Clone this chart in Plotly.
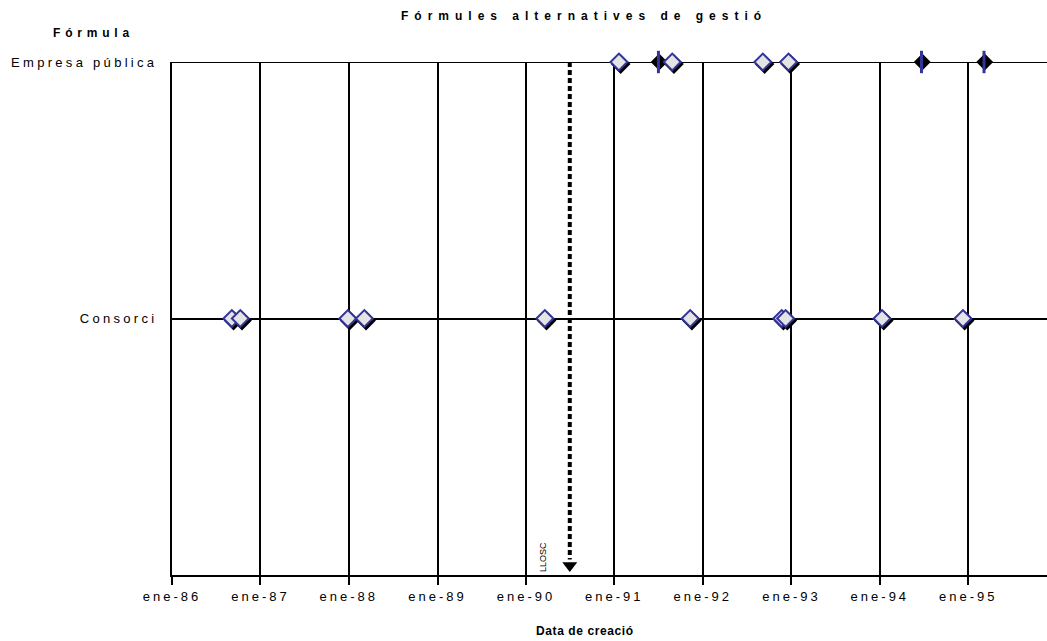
import plotly.graph_objects as go
import pandas as pd

# ---- data ----
row_labels = ["Consorci", "Empresa pública"]
row_values = [1, 2]

empresa_open_dates = ["1991-01-20", "1991-08-28", "1992-09-05", "1992-12-20"]
empresa_dark_dates = ["1991-07-05", "1994-06-25", "1995-03-10"]
consorci_dates = ["1986-09-05", "1986-10-10", "1987-12-28", "1988-03-05",
                  "1990-03-20", "1991-11-10", "1992-11-22", "1992-12-08",
                  "1994-01-10", "1994-12-10"]

llosc_date = "1990-07-01"

tick_dates = ["1986-01-01", "1987-01-01", "1988-01-01", "1989-01-01", "1990-01-01",
              "1991-01-01", "1992-01-01", "1993-01-01", "1994-01-01", "1995-01-01"]
tick_labels = ["ene-86", "ene-87", "ene-88", "ene-89", "ene-90",
               "ene-91", "ene-92", "ene-93", "ene-94", "ene-95"]

x_range = ["1986-01-01", "1995-11-22"]

FONT = "Arial, Liberation Sans, sans-serif"
NAVY = "#333399"
FILL = "#e4e4e4"

W, H = 1047, 641
PL, PR, PT, PB = 172, 1047, 62, 575  # plot area in pixels


def px(x):
    return (x - PL) / (PR - PL)


def py(y):
    return (PB - y) / (PB - PT)


def spaced(t, ls):
    return f'<span style="letter-spacing:{ls}px">{t}</span>'


def shift(dates, days):
    return [(pd.Timestamp(d) + pd.Timedelta(days=days)).strftime("%Y-%m-%d") for d in dates]


fig = go.Figure()

# top border line (gridline at top of range)
fig.add_shape(type="line", xref="paper", yref="y", x0=0, x1=1, y0=2, y1=2,
              line=dict(color="black", width=2), layer="below")

# shadows
sh_days = 7
sh_dy = 0.008
for dates, yv in ((empresa_open_dates, 2), (consorci_dates, 1)):
    fig.add_trace(go.Scatter(
        x=shift(dates, sh_days), y=[yv - sh_dy] * len(dates),
        mode="markers", marker=dict(symbol="diamond", size=13, color="black",
                                    line=dict(width=2, color="black")),
        cliponaxis=False, hoverinfo="skip", showlegend=False))

# dark markers (Empresa pública)
fig.add_trace(go.Scatter(
    x=empresa_dark_dates, y=[2] * len(empresa_dark_dates),
    mode="markers", marker=dict(symbol="diamond", size=13, color="black",
                                line=dict(width=0)),
    cliponaxis=False, showlegend=False))
fig.add_trace(go.Scatter(
    x=shift(empresa_dark_dates, -3), y=[2] * len(empresa_dark_dates),
    mode="markers", marker=dict(symbol="line-ns", size=16,
                                line=dict(width=3, color=NAVY)),
    cliponaxis=False, showlegend=False))

# open diamonds
for dates, yv in ((empresa_open_dates, 2), (consorci_dates, 1)):
    fig.add_trace(go.Scatter(
        x=dates, y=[yv] * len(dates),
        mode="markers", marker=dict(symbol="diamond", size=13, color=FILL,
                                    line=dict(width=2, color=NAVY)),
        cliponaxis=False, showlegend=False))

# LLOSC arrow
fig.add_shape(type="line", x0=llosc_date, x1=llosc_date, y0=2, y1=0.06,
              xref="x", yref="y", line=dict(color="black", width=4, dash="5px,3px"))
fig.add_trace(go.Scatter(
    x=[llosc_date], y=[0.037], mode="markers",
    marker=dict(symbol="triangle-down", size=13, color="black", line=dict(width=0)),
    cliponaxis=False, showlegend=False, hoverinfo="skip"))
fig.add_annotation(x="1990-03-10", y=0.072, xref="x", yref="y", text="LLOSC",
                   textangle=-90, showarrow=False, xanchor="center", yanchor="middle",
                   font=dict(family=FONT, size=9, color="black"))

# texts
for txt, ls, cx, cy in (("<b>Fórmules alternatives de gestió</b>", 6, 584, 16),
                        ("<b>Fórmula</b>", 4.8, 93, 33),
                        ("<b>Data de creació</b>", 0.6, 585, 631)):
    fig.add_annotation(text=spaced(txt, ls), x=px(cx), y=py(cy),
                       xref="paper", yref="paper", xanchor="center", yanchor="middle",
                       showarrow=False, font=dict(family=FONT, size=12, color="black"))

fig.update_layout(
    width=W, height=H,
    margin=dict(l=PL, r=W - PR, t=PT, b=H - PB),
    plot_bgcolor="white", paper_bgcolor="white",
    showlegend=False,
    xaxis=dict(type="date", range=x_range, tickmode="array", tickvals=tick_dates,
               ticktext=[spaced(t, 3) for t in tick_labels],
               showgrid=True, gridcolor="black", gridwidth=2,
               showline=True, linecolor="black", linewidth=2,
               ticks="outside", ticklen=8, tickwidth=2, tickcolor="black",
               tickfont=dict(family=FONT, size=13, color="black"),
               zeroline=False, fixedrange=True),
    yaxis=dict(range=[0, 2], tickmode="array", tickvals=row_values,
               ticktext=[spaced(t, 3.3) for t in row_labels],
               showgrid=True, gridcolor="black", gridwidth=2,
               showline=True, linecolor="black", linewidth=2,
               ticks="", ticklabelstandoff=10,
               tickfont=dict(family=FONT, size=13, color="black"),
               zeroline=False, fixedrange=True),
)

fig.write_html("out.html")
